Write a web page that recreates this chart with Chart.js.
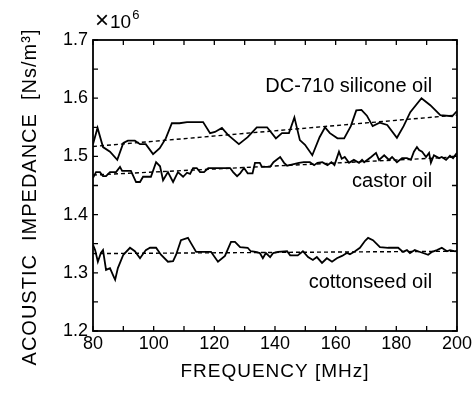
<!DOCTYPE html>
<html lang="en">
<head>
  <meta charset="UTF-8" />
  <title>Acoustic impedance of oils</title>
  <script src="https://cdn.jsdelivr.net/npm/chart.js"></script>
  <style>
    body { margin: 0; background: #fff; }
    canvas { display: block; }
  </style>
</head>
<body>
  <canvas id="impChart" width="474" height="394"></canvas>
  <script>
    // tick labels
    const freqLabels = [80, 100, 120, 140, 160, 180, 200];
    const impLabels = [1.2, 1.3, 1.4, 1.5, 1.6, 1.7];

    // DC-710 silicone oil (x1e6 Ns/m3)
    const siliconeFreq = [80, 81.5, 83.3, 85.6, 88, 90, 91.5, 93.8, 95.5, 97.4, 99.8, 102, 104, 106, 108.5,
      111, 116.3, 118.6, 120.2, 122.5, 124.5, 128.1, 131, 134, 137.4, 140.3, 142.3, 144.6, 146.4, 148.2,
      149.9, 152.3, 154.7, 156.5, 158.1, 160.6, 162.8, 165, 166.8, 168.5, 170.3, 172.2, 174.5, 177,
      180.2, 182.4, 184.6, 188.3, 191.2, 194.5, 198.4, 200];
    const siliconeZ = [1.521, 1.549, 1.516, 1.508, 1.494, 1.523, 1.527, 1.527, 1.521, 1.521, 1.504, 1.514, 1.531, 1.557, 1.557,
      1.559, 1.559, 1.540, 1.542, 1.549, 1.537, 1.521, 1.533, 1.550, 1.550, 1.531, 1.540, 1.540, 1.567, 1.528,
      1.520, 1.502, 1.533, 1.550, 1.540, 1.531, 1.531, 1.552, 1.579, 1.580, 1.570, 1.552, 1.558, 1.554,
      1.532, 1.552, 1.576, 1.600, 1.588, 1.571, 1.569, 1.578];
    const siliconeFitZ = [1.517, 1.571];

    // castor oil
    const castorFreq = [80, 81, 82.3, 83.3, 84.3, 85.6, 87.6, 88.9, 89.6, 92.5, 94.2, 95.5, 96.5, 99.1,
      100.8, 102.1, 103.1, 104.7, 106.4, 108, 109.7, 111, 112, 113, 114.2, 115.3, 116.6, 118, 125.2, 126.2,
      127.5, 128.5, 129.8, 131, 132.6, 133.4, 135, 135.7, 138.4, 139.5, 141.7, 143, 144, 145.5, 147.9,
      149.5, 151.5, 152.9, 154, 155.6, 157.3, 158.6, 159.6, 161.1, 162, 163, 164.4, 166, 167.7, 168.7,
      169.4, 171.7, 173.3, 174.3, 176, 177.6, 178.6, 180.2, 181.9, 183.5, 184.8, 185.8, 186.8, 187.5,
      188.5, 189.8, 190.8, 191.4, 192.4, 194.1, 195, 196.4, 197.7, 198.7, 200];
    const castorZ = [1.463, 1.473, 1.473, 1.466, 1.466, 1.473, 1.473, 1.482, 1.475, 1.475, 1.456, 1.456, 1.465, 1.465,
      1.490, 1.483, 1.459, 1.473, 1.456, 1.473, 1.465, 1.472, 1.470, 1.480, 1.480, 1.473, 1.473, 1.480, 1.480, 1.473,
      1.466, 1.471, 1.480, 1.471, 1.471, 1.489, 1.489, 1.482, 1.482, 1.490, 1.499, 1.489, 1.484, 1.486, 1.489,
      1.490, 1.490, 1.485, 1.489, 1.490, 1.485, 1.490, 1.485, 1.508, 1.496, 1.499, 1.489, 1.494, 1.489, 1.494,
      1.490, 1.499, 1.506, 1.494, 1.502, 1.494, 1.499, 1.490, 1.497, 1.497, 1.494, 1.508, 1.516, 1.511,
      1.508, 1.499, 1.506, 1.489, 1.502, 1.497, 1.499, 1.494, 1.501, 1.497, 1.506];
    const castorFitZ = [1.468, 1.499];

    // cottonseed oil
    const cottonFreq = [80, 80.7, 81.6, 82.6, 83.3, 84.3, 85.6, 86.6, 87.3, 88.2, 90, 92.2, 93.8, 95.5,
      97.4, 98.8, 100.8, 102.4, 104.7, 106.4, 107.4, 109, 111.3, 112.3, 114, 118.9, 121.2, 123.5, 125.5,
      126.8, 128.5, 131, 132, 133.6, 135, 136, 137, 138.4, 139.4, 141, 144, 145, 147.5, 149.2, 150.9,
      152.5, 153.8, 155.5, 157.1, 158.8, 160.4, 162.1, 163.7, 164.7, 166.4, 168, 169.7, 170.7, 172.3,
      174.6, 177.3, 180.6, 182.2, 183.5, 184.5, 186.1, 187.1, 188.8, 190.5, 191.8, 193.4, 195, 196.7,
      197.7, 199.4, 200];
    const cottonZ = [1.348, 1.339, 1.319, 1.334, 1.339, 1.305, 1.308, 1.296, 1.288, 1.308, 1.331, 1.343, 1.337, 1.325,
      1.339, 1.343, 1.343, 1.331, 1.319, 1.320, 1.331, 1.356, 1.360, 1.351, 1.336, 1.336, 1.319, 1.329, 1.353,
      1.353, 1.344, 1.343, 1.337, 1.336, 1.334, 1.325, 1.334, 1.327, 1.334, 1.336, 1.337, 1.330, 1.330, 1.337, 1.327,
      1.322, 1.327, 1.317, 1.325, 1.319, 1.325, 1.329, 1.334, 1.332, 1.337, 1.343, 1.355, 1.360, 1.356,
      1.344, 1.343, 1.343, 1.336, 1.339, 1.334, 1.339, 1.337, 1.334, 1.331, 1.336, 1.339, 1.343, 1.337,
      1.339, 1.337, 1.338];
    const cottonFitZ = [1.333, 1.337];

    const fitFreq = [80, 200];

    const FONT = '"Liberation Sans", Arial, Helvetica, sans-serif';
    const pts = (xs, ys) => xs.map((x, i) => ({ x, y: ys[i] }));
    const solid = (xs, ys) => ({ data: pts(xs, ys), borderColor: '#000', borderWidth: 1.8, pointRadius: 0, fill: false });
    const dashed = ys => ({ data: pts(fitFreq, ys), borderColor: '#000', borderWidth: 1.4, borderDash: [4, 3], pointRadius: 0, fill: false });

    // frame, inward ticks and all text
    const decor = {
      id: 'decor',
      afterDraw(chart) {
        const { ctx, chartArea: a, scales: { x, y } } = chart;
        ctx.save();
        ctx.strokeStyle = '#000';
        ctx.lineWidth = 1.8;
        ctx.strokeRect(a.left, a.top, a.right - a.left, a.bottom - a.top);
        ctx.lineWidth = 1.3;
        ctx.beginPath();
        x.ticks.forEach(t => {
          const px = x.getPixelForValue(t.value);
          ctx.moveTo(px, a.bottom); ctx.lineTo(px, a.bottom - 5);
          ctx.moveTo(px, a.top); ctx.lineTo(px, a.top + 5);
        });
        y.ticks.forEach(t => {
          const py = y.getPixelForValue(t.value);
          ctx.moveTo(a.left, py); ctx.lineTo(a.left + 5, py);
          ctx.moveTo(a.right, py); ctx.lineTo(a.right - 5, py);
        });
        ctx.stroke();

        ctx.fillStyle = '#000';
        // curve names
        ctx.font = '20px ' + FONT;
        ctx.textAlign = 'right';
        ctx.textBaseline = 'alphabetic';
        const rx = x.getPixelForValue(191.8);
        ctx.fillText('DC-710 silicone oil', rx, y.getPixelForValue(1.611));
        ctx.fillText('castor oil', rx, y.getPixelForValue(1.447));
        ctx.fillText('cottonseed oil', rx, y.getPixelForValue(1.274));

        // exponent
        ctx.textAlign = 'left';
        ctx.font = '24px ' + FONT;
        ctx.fillText('\u00d7', a.left + 2, 28);
        let w = ctx.measureText('\u00d7').width;
        ctx.font = '19px ' + FONT;
        ctx.fillText('10', a.left + 3 + w, 28);
        w += ctx.measureText('10').width;
        ctx.font = '13px ' + FONT;
        ctx.fillText('6', a.left + 4 + w, 19);

        // axis titles
        ctx.font = '19px ' + FONT;
        ctx.letterSpacing = '1px';
        ctx.textAlign = 'center';
        ctx.textBaseline = 'middle';
        ctx.fillText('FREQUENCY [MHz]', (a.left + a.right) / 2, 372);
        ctx.font = '20px ' + FONT;
        ctx.translate(30, 197);
        ctx.rotate(-Math.PI / 2);
        ctx.fillText('ACOUSTIC  IMPEDANCE  [Ns/m\u00b3]', 0, 0);
        ctx.restore();
      }
    };

    new Chart(document.getElementById('impChart'), {
      type: 'line',
      data: {
        datasets: [
          solid(siliconeFreq, siliconeZ),
          dashed(siliconeFitZ),
          solid(castorFreq, castorZ),
          dashed(castorFitZ),
          solid(cottonFreq, cottonZ),
          dashed(cottonFitZ)
        ]
      },
      options: {
        responsive: false,
        devicePixelRatio: 1,
        animation: false,
        layout: { padding: { top: 40, right: 17, left: 0, bottom: 0 } },
        plugins: { legend: { display: false }, tooltip: { enabled: false } },
        scales: {
          x: {
            type: 'linear',
            min: 80,
            max: 200,
            grid: { display: false, drawTicks: false },
            border: { display: false },
            ticks: {
              stepSize: 10,
              autoSkip: false,
              maxRotation: 0,
              padding: 2,
              color: '#000',
              font: { family: FONT, size: 18 },
              callback: v => freqLabels.includes(Math.round(v)) ? String(Math.round(v)) : ''
            },
            afterFit: s => { s.height = 63; }
          },
          y: {
            min: 1.2,
            max: 1.7,
            grid: { display: false, drawTicks: false },
            border: { display: false },
            ticks: {
              stepSize: 0.05,
              autoSkip: false,
              padding: 5,
              color: '#000',
              font: { family: FONT, size: 18 },
              callback: v => {
                const r = Math.round(v * 10) / 10;
                return Math.abs(v - r) < 1e-6 && impLabels.includes(r) ? r.toFixed(1) : '';
              }
            },
            afterFit: s => { s.width = 93; }
          }
        }
      },
      plugins: [decor]
    });
  </script>
</body>
</html>
